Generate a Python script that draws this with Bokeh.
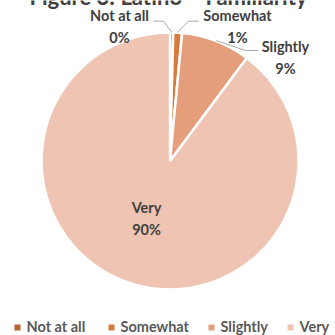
import math
from bokeh.plotting import figure
from bokeh.models import Range1d
from bokeh.core.properties import value
from bokeh.embed import file_html
from bokeh.resources import INLINE

# ---- data ----
categories = ["Not at all", "Somewhat", "Slightly", "Very"]
shares = [0.4, 1.1, 8.7, 89.8]
pct_labels = ["0%", "1%", "9%", "90%"]
title_text = "Figure 3: Latino \u2013 Familiarity"

# ---- style / layout ----
colors = ["#B9622F", "#D97B3E", "#E59E7C", "#EFC4B3"]
W = H = 335
FONT = "Lato"
TXT = "#404040"
cx, cy_ref, R = 169.5, 160.5, 128.5


def Y(y_ref):
    return H - y_ref


p = figure(width=W, height=H, x_range=Range1d(0, W), y_range=Range1d(0, H),
           output_backend="svg", toolbar_location=None, min_border=0)
p.axis.visible = False
p.grid.visible = False
p.outline_line_color = None
p.background_fill_color = "white"
p.border_fill_color = "white"

total = sum(shares)
cum = 0.0
starts, ends, mids = [], [], []
for s in shares:
    a_top = math.pi / 2 - 2 * math.pi * cum / total
    a_bot = math.pi / 2 - 2 * math.pi * (cum + s) / total
    starts.append(a_bot)
    ends.append(a_top)
    mids.append((a_top + a_bot) / 2)
    cum += s

p.wedge(x=[cx] * 4, y=[Y(cy_ref)] * 4, radius=R, start_angle=starts, end_angle=ends,
        fill_color=colors, line_color="white", line_width=2.5)

# labels (layout positions, ref coords)
label_pos = [(119, 26), (237, 26), (285, 57), (146, 218)]
elbows = [[(163, 20.7), (153, 20.7)], [(188, 20.7), (198, 20.7)], [(245, 50), (258, 50)], None]
for i, cat in enumerate(categories):
    lx, ly = label_pos[i]
    p.text(x=[lx], y=[Y(ly)], text=[f"{cat}\n{pct_labels[i]}"], text_align="center",
           text_baseline="middle", text_font=value(FONT), text_font_style="bold",
           text_font_size="14.5px", text_color=TXT, text_line_height=1.25)
    if elbows[i]:
        rx = cx + (R + 0.5) * math.cos(mids[i])
        ry = Y(cy_ref) + (R + 0.5) * math.sin(mids[i])
        xs = [rx] + [e[0] for e in elbows[i]]
        ys = [ry] + [Y(e[1]) for e in elbows[i]]
        p.line(xs, ys, line_color="#A6A6A6", line_width=1)

# legend (manual)
leg_x = [17, 111, 211, 290]
leg_y = 326
p.scatter(x=leg_x, y=[Y(leg_y + 1)] * 4, marker="square", size=6, fill_color=colors, line_color=None)
p.text(x=[x + 9 for x in leg_x], y=[Y(leg_y)] * 4, text=categories, text_align="left",
       text_baseline="middle", text_font=value(FONT), text_font_style="bold",
       text_font_size="14.5px", text_color="#595959")

# title (top cut off as in reference)
p.text(x=[168], y=[Y(-4)], text=[title_text], text_align="center", text_baseline="alphabetic",
       text_font=value(FONT), text_font_style="bold", text_font_size="22px", text_color=TXT)

html = file_html(p, INLINE)
html = html.replace("<body>", '<body style="margin:0">', 1)
open("out.html", "w").write(html)
